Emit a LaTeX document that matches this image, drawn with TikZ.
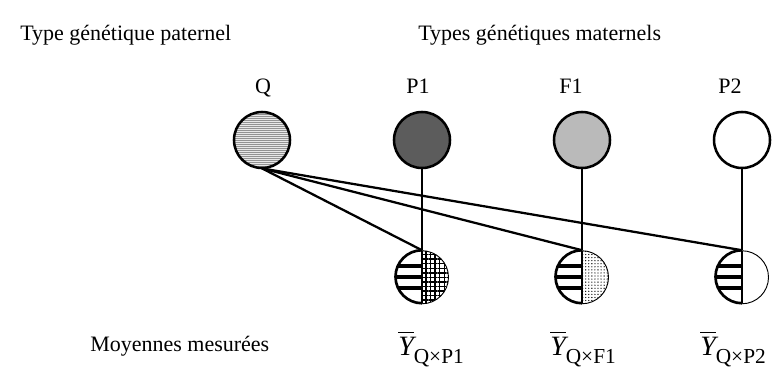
\documentclass[tikz,border=0pt]{standalone}
\usepackage{amsmath}
\usepackage{fontspec}
\setmainfont{Liberation Serif}
\usetikzlibrary{patterns.meta,positioning}

\tikzset{
  texte/.style={font=\fontsize{16.5}{19}\selectfont, inner sep=0pt},
  moy/.style={font=\fontsize{21}{24}\selectfont, inner sep=0pt, anchor=base west},
  parent/.style={circle, draw, line width=1.9pt, minimum size=42pt, inner sep=0pt},
  lien/.style={line width=1.7pt},
  moyenne/.style={circle, inner sep=0pt, minimum size=39.75pt,
    path picture={
      \fill[white] (path picture bounding box.south west) rectangle (path picture bounding box.north east);
      \fill[#1] (path picture bounding box.south) rectangle (path picture bounding box.north east);
      \foreach \ya/\yb in {-9.75/-6.75,-1.5/1.5,6.75/9.75}
        \fill[black] ([yshift=\ya pt]path picture bounding box.west) rectangle ([yshift=\yb pt]path picture bounding box.center);
      \draw[line width=2pt] (path picture bounding box.north) -- (path picture bounding box.south);
    }},
}
\newcommand{\ybar}[1]{$\overline{\text{\itshape Y}}$\raisebox{-6pt}{\fontsize{16}{18}\selectfont Q×#1}}

\begin{document}
\begin{tikzpicture}[x=0.75pt,y=0.75pt]
\useasboundingbox (0,0) rectangle (775,-368);

% Titles
\node[texte, anchor=base west] (pat) at (20,-40) {Type génétique paternel};
\node[texte, anchor=base west] (mat) at (418,-40) {Types génétiques maternels};

% Parent labels
\node[texte, anchor=base] (lQ) at (263,-93) {Q};
\node[texte, anchor=base] (lP1) at (418,-93) {P1};
\node[texte, anchor=base] (lF1) at (571,-93) {F1};
\node[texte, anchor=base] (lP2) at (730,-93) {P2};

% Parent circles
\node[parent, preaction={fill=gray!18}, pattern={Lines[angle=0,distance=1.5pt,line width=0.6pt]}, pattern color=gray!85] (Q) at (262,-140) {};
\node[parent, fill=black!64] (P1) at (422,-140) {};
\node[parent, fill=black!27] (F1) at (582,-140) {};
\node[parent, fill=white] (P2) at (742,-140) {};

% Crosses
\node[moyenne={pattern={Hatch[angle=0,distance=3.4pt,line width=1.1pt]}}] (m1) at (422,-277) {};
\node[moyenne={pattern={Dots[distance=2.3pt,radius=0.5pt]}}] (m2) at (582,-277) {};
\node[moyenne={white}] (m3) at (742,-277) {};

\foreach \m in {m1,m2,m3}{
  \draw[line width=2pt] (\m.north) arc[start angle=90, end angle=270, radius=19.875pt];
  \draw[line width=0.7pt] (\m.south) arc[start angle=-90, end angle=90, radius=19.875pt];
}

% Links
\draw[lien] (Q.south) -- (m1.north);
\draw[lien] (Q.south) -- (m2.north);
\draw[lien] (Q.south) -- (m3.north);
\draw[lien] (P1.south) -- (m1.north);
\draw[lien] (F1.south) -- (m2.north);
\draw[lien] (P2.south) -- (m3.north);

% Means
\node[texte, anchor=base west] (mes) at (90,-351) {Moyennes mesurées};
\node[moy] (y1) at (398,-355) {\ybar{P1}};
\node[moy] (y2) at (550,-355) {\ybar{F1}};
\node[moy] (y3) at (700,-355) {\ybar{P2}};

\end{tikzpicture}
\end{document}
